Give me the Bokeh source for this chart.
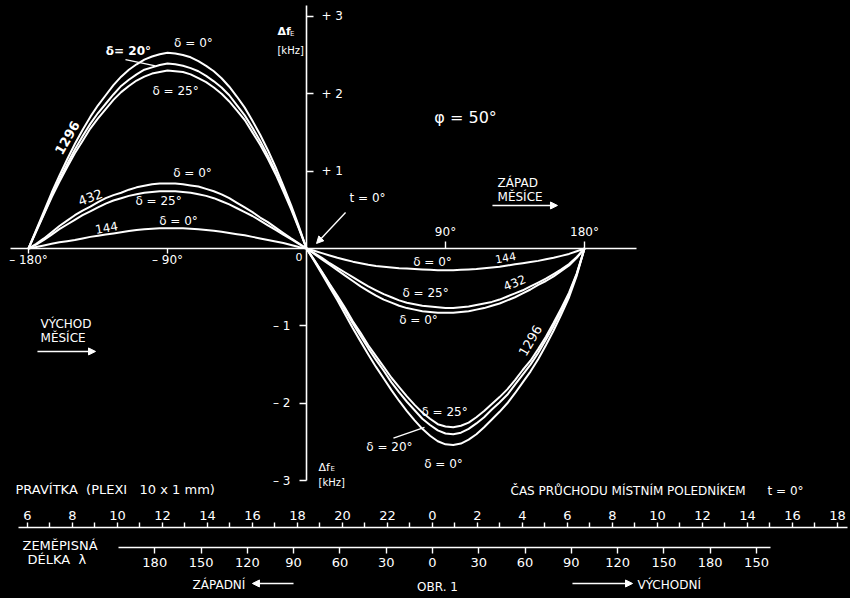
from bokeh.plotting import figure
from bokeh.models import Range1d, LinearAxis, FixedTicker, Label, Arrow, NormalHead
from bokeh.embed import file_html
from bokeh.resources import INLINE

# ---------------- data ----------------
# hour angle of the Moon, degrees
hour_angle_w = [-180, -175, -170, -165, -160, -155, -150, -145, -140, -135, -130, -125,
                -120, -115, -110, -105, -100, -95, -90, -85, -80, -75, -70, -65,
                -60, -55, -50, -45, -40, -35, -30, -25, -20, -15, -10, -5, 0]
hour_angle_e = [0, 5, 10, 15, 20, 25, 30, 35, 40, 45, 50, 55, 60, 65, 70, 75, 80, 85,
                90, 95, 100, 105, 110, 115, 120, 125, 130, 135, 140, 145, 150, 155,
                160, 165, 170, 175, 180]

# Doppler shift  Δf_E  [kHz]   (west half: Moon rising, east half: Moon setting)
f1296_d0_w = [0, 0.24, 0.48, 0.72, 0.94, 1.15, 1.35, 1.53, 1.70, 1.85, 1.98, 2.11,
              2.22, 2.31, 2.38, 2.44, 2.48, 2.51, 2.53, 2.52, 2.50, 2.47, 2.42, 2.36,
              2.29, 2.20, 2.09, 1.96, 1.82, 1.65, 1.47, 1.27, 1.05, 0.81, 0.56, 0.29, 0]
f1296_d20_w = [0, 0.23, 0.45, 0.68, 0.89, 1.09, 1.28, 1.45, 1.61, 1.75, 1.87, 1.99,
               2.10, 2.18, 2.25, 2.31, 2.34, 2.37, 2.39, 2.38, 2.36, 2.33, 2.29, 2.23,
               2.16, 2.08, 1.98, 1.85, 1.72, 1.56, 1.39, 1.20, 0.99, 0.77, 0.53, 0.27, 0]
f1296_d25_w = [0, 0.22, 0.44, 0.66, 0.86, 1.05, 1.23, 1.39, 1.55, 1.68, 1.80, 1.92,
               2.02, 2.10, 2.17, 2.22, 2.26, 2.28, 2.30, 2.29, 2.28, 2.25, 2.20, 2.15,
               2.08, 2.00, 1.90, 1.78, 1.66, 1.50, 1.34, 1.16, 0.96, 0.74, 0.51, 0.26, 0]
f432_d0_w = [0, 0.06, 0.13, 0.21, 0.29, 0.36, 0.43, 0.49, 0.54, 0.60, 0.65, 0.69,
             0.72, 0.76, 0.79, 0.81, 0.83, 0.84, 0.84, 0.84, 0.83, 0.815, 0.80, 0.77,
             0.74, 0.70, 0.65, 0.59, 0.53, 0.47, 0.40, 0.34, 0.27, 0.20, 0.13, 0.065, 0]
f432_d25_w = [0, 0.05, 0.11, 0.18, 0.25, 0.31, 0.37, 0.43, 0.48, 0.53, 0.58, 0.62,
              0.65, 0.68, 0.70, 0.72, 0.73, 0.74, 0.74, 0.74, 0.73, 0.72, 0.70, 0.68,
              0.65, 0.61, 0.57, 0.52, 0.47, 0.42, 0.36, 0.30, 0.24, 0.18, 0.12, 0.06, 0]
f144_d0_w = [0, 0.02, 0.04, 0.06, 0.08, 0.095, 0.11, 0.13, 0.15, 0.165, 0.18, 0.195,
             0.21, 0.225, 0.24, 0.25, 0.255, 0.26, 0.26, 0.26, 0.26, 0.255, 0.25, 0.24,
             0.23, 0.215, 0.20, 0.185, 0.17, 0.15, 0.13, 0.11, 0.09, 0.07, 0.045, 0.02, 0]

f1296_d0_e = [0, -0.16, -0.33, -0.50, -0.67, -0.85, -1.03, -1.20, -1.37, -1.53, -1.68, -1.83,
              -1.97, -2.10, -2.22, -2.33, -2.42, -2.49, -2.53, -2.54, -2.52, -2.47, -2.40, -2.31,
              -2.21, -2.11, -2.00, -1.87, -1.73, -1.59, -1.43, -1.25, -1.06, -0.85, -0.63, -0.35, 0]
f1296_d20_e = [0, -0.15, -0.31, -0.47, -0.63, -0.80, -0.97, -1.13, -1.29, -1.44, -1.58, -1.73,
               -1.86, -1.98, -2.09, -2.20, -2.28, -2.35, -2.39, -2.40, -2.38, -2.33, -2.26, -2.18,
               -2.08, -1.99, -1.89, -1.76, -1.63, -1.50, -1.35, -1.18, -1.00, -0.80, -0.59, -0.33, 0]
f1296_d25_e = [0, -0.15, -0.30, -0.46, -0.61, -0.77, -0.94, -1.09, -1.25, -1.39, -1.53, -1.67,
               -1.79, -1.91, -2.02, -2.12, -2.20, -2.27, -2.30, -2.31, -2.29, -2.25, -2.18, -2.10,
               -2.01, -1.92, -1.82, -1.70, -1.57, -1.45, -1.30, -1.14, -0.96, -0.77, -0.57, -0.32, 0]
f432_d0_e = [0, -0.07, -0.14, -0.21, -0.28, -0.35, -0.42, -0.49, -0.55, -0.61, -0.66, -0.70,
             -0.74, -0.77, -0.79, -0.81, -0.82, -0.83, -0.83, -0.83, -0.82, -0.81, -0.79, -0.77,
             -0.74, -0.71, -0.67, -0.63, -0.58, -0.53, -0.47, -0.42, -0.36, -0.29, -0.22, -0.12, 0]
f432_d25_e = [0, -0.06, -0.12, -0.19, -0.25, -0.31, -0.37, -0.43, -0.49, -0.54, -0.59, -0.63,
              -0.67, -0.70, -0.72, -0.74, -0.75, -0.76, -0.77, -0.77, -0.76, -0.75, -0.73, -0.71,
              -0.69, -0.66, -0.62, -0.58, -0.54, -0.49, -0.44, -0.39, -0.33, -0.27, -0.20, -0.11, 0]
f144_d0_e = [0, -0.03, -0.06, -0.09, -0.12, -0.145, -0.17, -0.19, -0.21, -0.225, -0.235, -0.245,
             -0.255, -0.26, -0.265, -0.27, -0.275, -0.28, -0.28, -0.28, -0.275, -0.27, -0.265, -0.255,
             -0.245, -0.235, -0.22, -0.205, -0.19, -0.175, -0.16, -0.14, -0.12, -0.095, -0.07, -0.035, 0]

# axis ticks and labels
xt_w = [-180, -90]
xt_w_labels = ["\u2013 180\u00b0", "\u2013 90\u00b0"]
xt_e = [90, 180]
xt_e_labels = ["90\u00b0", "180\u00b0"]
yt_pos = [1, 2, 3]
yt_pos_labels = ["+ 1", "+ 2", "+ 3"]
yt_neg = [-1, -2, -3]
yt_neg_labels = ["\u2013 1", "\u2013 2", "\u2013 3"]

# ruler 1: local time of meridian transit (hours, 0 = transit at t = 0)
ruler_hours_major = [-18, -16, -14, -12, -10, -8, -6, -4, -2, 0, 2, 4, 6, 8, 10, 12, 14, 16, 18]
ruler_hours_labels = ["6", "8", "10", "12", "14", "16", "18", "20", "22",
                      "0", "2", "4", "6", "8", "10", "12", "14", "16", "18"]
ruler_hours_minor = [-17, -15, -13, -11, -9, -7, -5, -3, -1, 1, 3, 5, 7, 9, 11, 13, 15, 17]
# ruler 2: geographic longitude (deg, east positive)
ruler_lon_ticks = [-180, -150, -120, -90, -60, -30, 0, 30, 60, 90, 120, 150, 180, 210]
ruler_lon_labels = ["180", "150", "120", "90", "60", "30", "0",
                    "30", "60", "90", "120", "150", "180", "150"]

# ---------------- figure ----------------
FONT = "DejaVu Sans"
W = "white"
NB = "\u00a0"

p = figure(width=850, height=598,
           x_range=Range1d(-198.13, 352.23), y_range=Range1d(-4.522, 3.204),
           output_backend="svg", toolbar_location=None,
           x_axis_location=None, y_axis_location=None, min_border=0,
           background_fill_color="black", border_fill_color="black",
           outline_line_color=None)
p.grid.grid_line_color = None
p.extra_x_ranges = {"hours": Range1d(-19.2, 18.578), "lon": Range1d(-279.97, 270.9)}


def style_axis(ax, tick_out, standoff, size="12px"):
    ax.axis_line_color = W
    ax.axis_line_width = 1.6
    ax.major_tick_line_color = W
    ax.major_tick_line_width = 1.4
    ax.major_tick_in = 0
    ax.major_tick_out = tick_out
    ax.minor_tick_line_color = W
    ax.minor_tick_line_width = 1.4
    ax.minor_tick_in = 0
    ax.minor_tick_out = tick_out
    ax.major_label_text_color = W
    ax.major_label_text_font = FONT
    ax.major_label_text_font_size = size
    ax.major_label_standoff = standoff


# main x axis (west half labels below, east half labels above)
ax_w = LinearAxis(fixed_location=0, ticker=FixedTicker(ticks=xt_w, minor_ticks=[]),
                  bounds=(-191.7, 0), major_label_overrides=dict(zip(xt_w, xt_w_labels)))
style_axis(ax_w, 5, 0)
p.add_layout(ax_w, "below")
ax_e = LinearAxis(fixed_location=0, ticker=FixedTicker(ticks=xt_e, minor_ticks=[]),
                  bounds=(0, 213.7), major_label_overrides=dict(zip(xt_e, xt_e_labels)))
style_axis(ax_e, 7, 2)
p.add_layout(ax_e, "above")

# main y axis
ay_p = LinearAxis(fixed_location=0, ticker=FixedTicker(ticks=yt_pos, minor_ticks=[]),
                  bounds=(0, 3.14), major_label_overrides=dict(zip(yt_pos, yt_pos_labels)))
style_axis(ay_p, 7, 8)
p.add_layout(ay_p, "right")
ay_n = LinearAxis(fixed_location=0, ticker=FixedTicker(ticks=yt_neg, minor_ticks=[]),
                  bounds=(-3, 0), major_label_overrides=dict(zip(yt_neg, yt_neg_labels)))
style_axis(ay_n, 7, 9)
p.add_layout(ay_n, "left")

# ruler 1 (hours), labels above the line
r1 = LinearAxis(x_range_name="hours", fixed_location=-3.605,
                ticker=FixedTicker(ticks=ruler_hours_major, minor_ticks=ruler_hours_minor),
                bounds=(-18.4, 18.44),
                major_label_overrides=dict(zip(ruler_hours_major, ruler_hours_labels)))
style_axis(r1, 5, 3, size="13px")
p.add_layout(r1, "above")

# ruler 2 (longitude), labels below the line
r2 = LinearAxis(x_range_name="lon", fixed_location=-3.863,
                ticker=FixedTicker(ticks=ruler_lon_ticks, minor_ticks=[]),
                bounds=(-203.5, 219),
                major_label_overrides=dict(zip(ruler_lon_ticks, ruler_lon_labels)))
style_axis(r2, 6, 5, size="13px")
p.add_layout(r2, "below")

# curves
for ys in [f1296_d0_w, f1296_d20_w, f1296_d25_w, f432_d0_w, f432_d25_w, f144_d0_w]:
    p.line(hour_angle_w, ys, line_color=W, line_width=2, line_join="round")
for ys in [f1296_d0_e, f1296_d20_e, f1296_d25_e, f432_d0_e, f432_d25_e, f144_d0_e]:
    p.line(hour_angle_e, ys, line_color=W, line_width=2, line_join="round")


def lab(text, x, y, size=11, angle=0, align="center", baseline="middle", style="normal"):
    p.add_layout(Label(x=x, y=y, text=text, text_color=W, text_font=FONT,
                       text_font_size=f"{size}px", text_align=align,
                       text_baseline=baseline, angle=angle, angle_units="deg",
                       text_font_style=style))


def arrow(x0, y0, x1, y1, head=True, width=1.4):
    end = NormalHead(size=7, fill_color=W, line_color=W) if head else None
    p.add_layout(Arrow(end=end, x_start=x0, y_start=y0, x_end=x1, y_end=y1,
                       line_color=W, line_width=width))


# curve annotations, west half
lab("\u03b4 = 0\u00b0", -73.2, 2.66, size=12)
lab("\u03b4= 20\u00b0", -115.3, 2.55, size=12, style="bold")
arrow(-117.2, 2.44, -97.8, 2.36, head=False)
lab("\u03b4 = 25\u00b0", -84.8, 2.04, size=12)
lab("1296", -154.8, 1.43, size=13, angle=60, style="bold")
lab("\u03b4 = 0\u00b0", -73.8, 0.97, size=12)
lab("432", -139.9, 0.66, size=13, angle=20)
lab("\u03b4 = 25\u00b0", -95.8, 0.62, size=12)
lab("144", -129.5, 0.27, size=12, angle=10)
lab("\u03b4 = 0\u00b0", -82.9, 0.36, size=12)

# curve annotations, east half
lab("\u03b4 = 0\u00b0", 81.6, -0.18, size=12)
lab("144", 128.9, -0.12, size=11, angle=10)
lab("432", 134.7, -0.44, size=12, angle=22)
lab("\u03b4 = 25\u00b0", 77.1, -0.57, size=12)
lab("\u03b4 = 0\u00b0", 72.5, -0.92, size=12)
lab("1296", 145.0, -1.19, size=13, angle=60)
lab("\u03b4 = 25\u00b0", 89.4, -2.11, size=12)
lab("\u03b4 = 20\u00b0", 53.7, -2.57, size=12)
arrow(56.3, -2.45, 76.4, -2.31, head=False)
lab("\u03b4 = 0\u00b0", 88.7, -2.79, size=12)

# other annotations
lab("t = 0\u00b0", 39.5, 0.65, size=12)
arrow(25.3, 0.465, 6.5, 0.065)
lab("\u03c6 = 50\u00b0", 103.0, 1.69, size=16)
lab("Z\u00c1PAD", 123.7, 0.85, size=12, align="left")
lab("M\u011aS\u00cdCE", 123.7, 0.66, size=12, align="left")
arrow(120.4, 0.556, 162.5, 0.556)
lab("V\u00ddCHOD", -172.2, -0.97, size=12, align="left")
lab("M\u011aS\u00cdCE", -172.2, -1.16, size=12, align="left")
arrow(-174.2, -1.33, -136.6, -1.33)
lab("\u0394f", -18.8, 2.80, size=11, align="left", style="bold")
lab("E", -10.7, 2.765, size=7, align="left")
lab("[kHz]", -18.8, 2.56, size=10, align="left")
lab("\u0394f", 7.8, -2.83, size=11, align="left")
lab("E", 15.5, -2.855, size=7, align="left")
lab("[kHz]", 7.8, -3.02, size=10, align="left")
lab("0", -4.9, -0.11, size=11)

# ruler texts
lab("PRAV\u00cdTKA" + NB * 2 + "(PLEXI" + NB * 3 + "10 x 1 mm)", -188.4, -3.11, size=13, align="left")
lab("\u010cAS PR\u016eCHODU M\u00cdSTN\u00cdM POLEDN\u00cdKEM", 132.1, -3.13, size=12, align="left")
lab("t = 0\u00b0", 298.5, -3.13, size=12, align="left")
lab("ZEM\u011aPISN\u00c1", -183.9, -3.84, size=13, align="left")
lab("D\u00c9LKA" + NB * 2 + "\u03bb", -180.6, -4.02, size=13, align="left")
lab("Z\u00c1PADN\u00cd", -73.8, -4.354, size=12, align="left")
arrow(-8.4, -4.328, -35.0, -4.328)
lab("OBR. 1", 84.8, -4.367, size=12)
arrow(172.2, -4.328, 211.1, -4.328)
lab("V\u00ddCHODN\u00cd", 214.3, -4.354, size=12, align="left")

template = """
{% block preamble %}<style>html, body { background: #000000; }</style>{% endblock %}
"""
open("out.html", "w").write(file_html(p, INLINE, title="Obr. 1", template=template))
